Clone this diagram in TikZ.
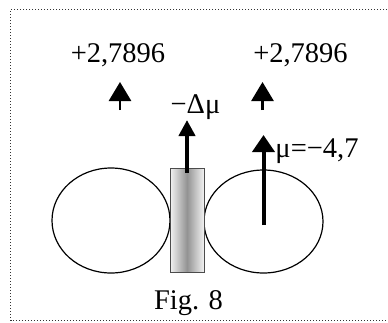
\documentclass[tikz,border=0pt]{standalone}
\usepackage{fontspec}
\setmainfont{Liberation Serif}
\usetikzlibrary{arrows.meta}
\begin{document}
\begin{tikzpicture}[x=1pt,y=-1pt,
  lbl/.style={anchor=base,inner sep=0pt,font=\fontsize{28.5}{28.5}\selectfont},
  figlbl/.style={anchor=base,inner sep=0pt,font=\fontsize{28.5}{28.5}\selectfont},
  smallarrow/.style={line width=2.8pt,-{Triangle[width=22pt,length=19pt]}},
  bigarrow/.style={line width=4pt,-{Triangle[width=22pt,length=17pt]}},
  midarrow/.style={line width=4pt,-{Triangle[width=16pt,length=16pt]}},
  lobe/.style={draw=black,line width=1.2pt}]
\useasboundingbox (0,0) rectangle (388,322);
% frame
\draw[line width=1.2pt,dash pattern=on 1.2pt off 1.8pt,black!80] (387,9.5) -- (10.5,9.5) -- (10.5,320.5) -- (387,320.5);
% lobes
\draw[lobe] (111,220.5) ellipse [x radius=59, y radius=52.5];
\draw[lobe] (263.5,221.5) ellipse [x radius=59.5, y radius=51.5];
% shaded bar
\shade[left color=gray!10,right color=gray!10,middle color=gray!85] (170,168) rectangle (204,272);
\draw[black!70,line width=0.8pt] (170,168) rectangle (204,272);
% arrows
\coordinate (ls) at (120,110); \coordinate (lt) at (120,82);
\coordinate (rs) at (262.5,110); \coordinate (rt) at (262.5,82);
\coordinate (ms) at (187,173); \coordinate (mt) at (187,120);
\coordinate (bs) at (263.5,225); \coordinate (bt) at (263.5,135);
\draw[smallarrow] (ls) -- (lt);
\draw[smallarrow] (rs) -- (rt);
\draw[midarrow] (ms) -- (mt);
\draw[bigarrow] (bs) -- (bt);
% labels
\node[lbl] (v1) at (118,62) {+2,7896};
\node[lbl] (v2) at (300.5,62) {+2,7896};
\node[lbl] (dm) at (195.5,113) {−Δμ};
\node[lbl] (mu) at (317,157) {μ=−4,7};
\node[figlbl] (fig) at (188.5,309) {Fig. 8};
\end{tikzpicture}
\end{document}
